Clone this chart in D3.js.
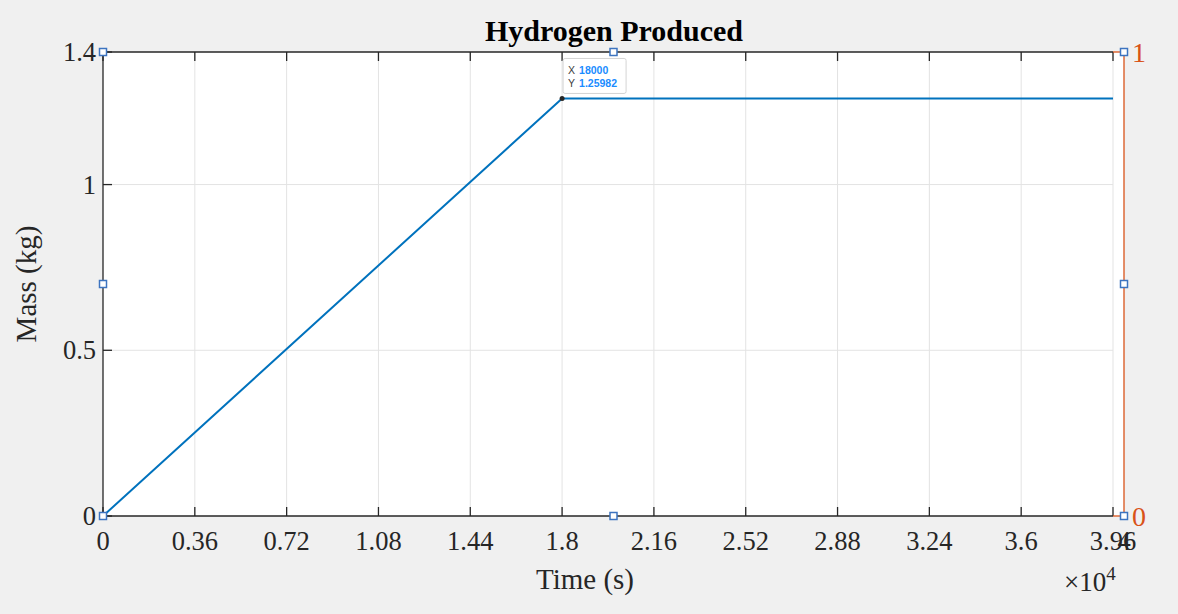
<!DOCTYPE html>
<html><head><meta charset="utf-8">
<script src="https://cdn.jsdelivr.net/npm/d3@7"></script>
<style>html,body{margin:0;padding:0;background:#f0f0f0;}svg{display:block;}</style>
</head><body>
<svg id="c" width="1178" height="614"></svg>
<script>
const timeS = [0, 18000, 39600];
const massKg = [0, 1.25982, 1.25982];
const xTicks = [0, 3600, 7200, 10800, 14400, 18000, 21600, 25200, 28800, 32400, 36000, 39600];
const xTickLabels = ["0","0.36","0.72","1.08","1.44","1.8","2.16","2.52","2.88","3.24","3.6","3.96"];
const yTicks = [0, 0.5, 1, 1.4];
const yTickLabels = ["0","0.5","1","1.4"];
const tip = {x: 18000, y: 1.25982, xText: "18000", yText: "1.25982"};

const svg = d3.select("#c");
const L = 103, T = 52, B = 516, R = 1113, R2 = 1124;
const x = d3.scaleLinear().domain([0, 39600]).range([L, R]);
const x2 = d3.scaleLinear().domain([0, 40000]).range([L, R2]);
const y = d3.scaleLinear().domain([0, 1.4]).range([B, T]);
const font = "'Liberation Serif','Times New Roman',serif";
const orange = "#D95319", blue = "#0072BD";

svg.append("rect").attr("width",1178).attr("height",614).attr("fill","#f0f0f0");
svg.append("rect").attr("x",L).attr("y",T).attr("width",R2-L).attr("height",B-T).attr("fill","#fff");

// grid
svg.append("g").selectAll("line").data(xTicks.slice(1)).join("line")
  .attr("x1",d=>x(d)).attr("x2",d=>x(d)).attr("y1",T).attr("y2",B)
  .attr("stroke","#e3e3e3").attr("stroke-width",1);
svg.append("g").selectAll("line").data(yTicks.slice(1,3)).join("line")
  .attr("x1",L).attr("x2",R).attr("y1",d=>y(d)).attr("y2",d=>y(d))
  .attr("stroke","#e3e3e3").attr("stroke-width",1);

// axes
const ax = svg.append("g").attr("stroke","#262626").attr("stroke-width",1.3);
ax.append("line").attr("x1",L).attr("x2",R).attr("y1",B).attr("y2",B);
ax.append("line").attr("x1",L).attr("x2",R).attr("y1",T).attr("y2",T);
ax.append("line").attr("x1",L).attr("x2",L).attr("y1",T).attr("y2",B);
xTicks.forEach(d=>{
  ax.append("line").attr("x1",x(d)).attr("x2",x(d)).attr("y1",B).attr("y2",B-9);
  ax.append("line").attr("x1",x(d)).attr("x2",x(d)).attr("y1",T).attr("y2",T+9);
});
yTicks.forEach(d=>{
  ax.append("line").attr("x1",L).attr("x2",L+9).attr("y1",y(d)).attr("y2",y(d));
});

// tick labels
svg.append("g").selectAll("text").data(xTicks).join("text")
  .attr("x",d=>x(d)).attr("y",B+34).attr("text-anchor","middle")
  .attr("font-family",font).attr("font-size",26.5).attr("fill","#262626")
  .text((d,i)=>xTickLabels[i]);
svg.append("text").attr("x",x2(40000)).attr("y",B+34).attr("text-anchor","middle")
  .attr("font-family",font).attr("font-size",26.5).attr("fill","#262626").text("4");
svg.append("g").selectAll("text").data(yTicks).join("text")
  .attr("x",L-7).attr("y",d=>y(d)+9).attr("text-anchor","end")
  .attr("font-family",font).attr("font-size",26.5).attr("fill","#262626")
  .text((d,i)=>yTickLabels[i]);

// exponent
const ex = svg.append("text").attr("x",1064).attr("y",591).attr("font-family",font).attr("font-size",27).attr("fill","#262626");
ex.append("tspan").text("\u00d710");
ex.append("tspan").attr("dy",-11).attr("font-size",19).text("4");

// axis labels
svg.append("text").attr("x",585).attr("y",589).attr("text-anchor","middle")
  .attr("font-family",font).attr("font-size",29).attr("fill","#262626").text("Time (s)");
svg.append("text").attr("transform","translate(36,284) rotate(-90)").attr("text-anchor","middle")
  .attr("font-family",font).attr("font-size",29).attr("fill","#262626").text("Mass (kg)");
svg.append("text").attr("x",614).attr("y",41).attr("text-anchor","middle")
  .attr("font-family",font).attr("font-size",30).attr("font-weight","bold").attr("fill","#000").text("Hydrogen Produced");

// orange secondary axis
const oa = svg.append("g").attr("stroke",orange).attr("stroke-width",1.3);
oa.append("line").attr("x1",R2).attr("x2",R2).attr("y1",T).attr("y2",B);
oa.append("line").attr("x1",R).attr("x2",R2).attr("y1",T).attr("y2",T);
oa.append("line").attr("x1",R).attr("x2",R2).attr("y1",B).attr("y2",B);
svg.append("text").attr("x",R2+8).attr("y",T+10).attr("font-family",font).attr("font-size",28).attr("fill",orange).text("1");
svg.append("text").attr("x",R2+8).attr("y",B+10).attr("font-family",font).attr("font-size",28).attr("fill",orange).text("0");

// data line
const line = d3.line().x((d,i)=>x(timeS[i])).y((d,i)=>y(massKg[i]));
svg.append("path").datum(timeS).attr("d",line).attr("fill","none").attr("stroke",blue).attr("stroke-width",2);

// data tip
const px = x(tip.x), py = y(tip.y);
svg.append("circle").attr("cx",px).attr("cy",py).attr("r",2.5).attr("fill","#262626");
const tg = svg.append("g");
tg.append("rect").attr("x",px+1).attr("y",py-40).attr("width",63).attr("height",35)
  .attr("fill","#fff").attr("fill-opacity",0.95).attr("stroke","#d4d4d4").attr("stroke-width",1).attr("rx",2);
const tfont = "'Liberation Sans',Arial,sans-serif";
tg.append("text").attr("x",px+6).attr("y",py-24).attr("font-family",tfont).attr("font-size",10.5).attr("fill","#404040").text("X");
tg.append("text").attr("x",px+17).attr("y",py-24).attr("font-family",tfont).attr("font-size",10.5).attr("font-weight","bold").attr("fill","#1a8cff").text(tip.xText);
tg.append("text").attr("x",px+6).attr("y",py-11).attr("font-family",tfont).attr("font-size",10.5).attr("fill","#404040").text("Y");
tg.append("text").attr("x",px+17).attr("y",py-11).attr("font-family",tfont).attr("font-size",10.5).attr("font-weight","bold").attr("fill","#1a8cff").text(tip.yText);

// selection handles
const hx = [L, (L+R2)/2, R2], hy = [T, (T+B)/2, B];
const handles = [];
hx.forEach((a,i)=>hy.forEach((b,j)=>{ if(!(i===1&&j===1)) handles.push([a,b]); }));
svg.append("g").selectAll("rect").data(handles).join("rect")
  .attr("x",d=>d[0]-3.5).attr("y",d=>d[1]-3.5).attr("width",7).attr("height",7)
  .attr("fill","#fff").attr("stroke","#3d74c0").attr("stroke-width",1.5);
</script>
</body></html>
